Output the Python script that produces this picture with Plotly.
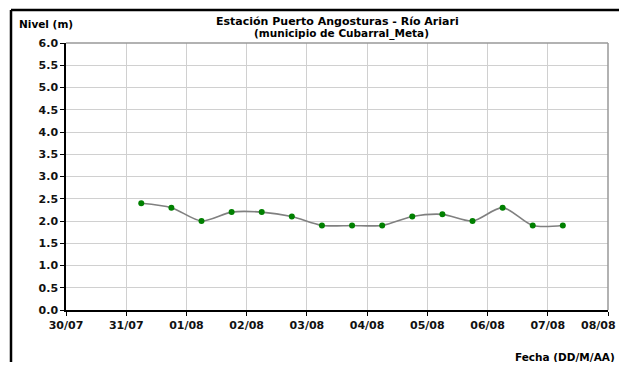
import plotly.graph_objects as go

fechas = ["2013-07-31 06:00", "2013-07-31 18:00", "2013-08-01 06:00", "2013-08-01 18:00",
          "2013-08-02 06:00", "2013-08-02 18:00", "2013-08-03 06:00", "2013-08-03 18:00",
          "2013-08-04 06:00", "2013-08-04 18:00", "2013-08-05 06:00", "2013-08-05 18:00",
          "2013-08-06 06:00", "2013-08-06 18:00", "2013-08-07 06:00"]
nivel = [2.4, 2.3, 2.0, 2.2, 2.2, 2.1, 1.9, 1.9, 1.9, 2.1, 2.15, 2.0, 2.3, 1.9, 1.9]

dias = ["2013-07-30", "2013-07-31", "2013-08-01", "2013-08-02", "2013-08-03",
        "2013-08-04", "2013-08-05", "2013-08-06", "2013-08-07", "2013-08-08"]
etiquetas_x = ["30/07", "31/07", "01/08", "02/08", "03/08",
               "04/08", "05/08", "06/08", "07/08", "08/08"]

titulo_1 = "Estación Puerto Angosturas - Río Ariari"
titulo_2 = "(municipio de Cubarral_Meta)"
y_titulo = "Nivel (m)"
x_titulo = "Fecha (DD/M/AA)"

OFF = 8  # page body margin
W, H = 627 - 2 * OFF, 370 - 2 * OFF
# reference (page) pixel coordinates of plot area
L, R, T, B = 66, 608, 43, 310
pw, ph = R - L, B - T
def px(x): return (x - L) / pw
def py(y): return (B - y) / ph

font = "DejaVu Sans, Arial, sans-serif"
tf = dict(family=font, size=11, color="#111", weight="bold")

# the last tick label sits at the page edge: draw it as an annotation nudged left
ticktext = etiquetas_x[:-1] + [""]

fig = go.Figure()
fig.add_trace(go.Scatter(
    x=fechas, y=nivel, mode="lines+markers",
    line=dict(color="#808080", width=1.6, shape="spline", smoothing=0.8),
    marker=dict(color="#008000", size=6),
    showlegend=False, hoverinfo="skip"))

fig.update_layout(
    width=W, height=H,
    margin=dict(l=L - OFF, r=(OFF + W) - R, t=T - OFF, b=(OFF + H) - B, autoexpand=False),
    paper_bgcolor="white", plot_bgcolor="white",
    font=dict(family=font, size=10, color="black"),
    xaxis=dict(type="date", range=[dias[0], dias[-1]], tickmode="array",
               tickvals=dias, ticktext=ticktext, showgrid=True,
               gridcolor="#d0d0d0", gridwidth=1, showline=True, linecolor="black",
               linewidth=1.5, ticks="outside", ticklen=4, tickcolor="black",
               tickfont=tf, zeroline=False, automargin=False),
    yaxis=dict(range=[0, 6], dtick=0.5, tickformat=".1f", showgrid=True,
               gridcolor="#d0d0d0", gridwidth=1, showline=True, linecolor="black",
               linewidth=1.5, ticks="outside", ticklen=4, tickcolor="black",
               tickfont=tf, zeroline=False, automargin=False),
    shapes=[
        dict(type="line", xref="paper", yref="paper", x0=1, x1=1, y0=0, y1=1,
             line=dict(color="#999999", width=1.5)),
        dict(type="line", xref="paper", yref="paper", x0=0, x1=1, y0=1, y1=1,
             line=dict(color="#999999", width=1.5)),
        dict(type="line", xref="paper", yref="paper", x0=px(11), x1=px(11),
             y0=py(10), y1=py(375), line=dict(color="black", width=2.5)),
        dict(type="line", xref="paper", yref="paper", x0=px(11), x1=px(630),
             y0=py(10), y1=py(10), line=dict(color="black", width=2.5)),
    ],
    annotations=[
        dict(text=etiquetas_x[-1], xref="x", yref="paper", x=dias[-1],
             y=py(325), xanchor="right", yanchor="middle", xshift=10,
             showarrow=False, font=tf),
        dict(text="<b>" + titulo_1 + "</b>", xref="paper", yref="paper",
             x=px(337), y=py(21.5), xanchor="center", yanchor="middle",
             showarrow=False, font=dict(family=font, size=11)),
        dict(text="<b>" + titulo_2 + "</b>", xref="paper", yref="paper",
             x=px(341), y=py(34), xanchor="center", yanchor="middle",
             showarrow=False, font=dict(family=font, size=10.5)),
        dict(text="<b>" + y_titulo + "</b>", xref="paper", yref="paper",
             x=px(17), y=py(24.5), xanchor="left", yanchor="middle",
             showarrow=False, font=dict(family=font, size=10.5)),
        dict(text="<b>" + x_titulo + "</b>", xref="paper", yref="paper",
             x=px(617), y=py(357), xanchor="right", yanchor="middle",
             showarrow=False, font=dict(family=font, size=10.5)),
    ],
)
fig.write_html("out.html")
